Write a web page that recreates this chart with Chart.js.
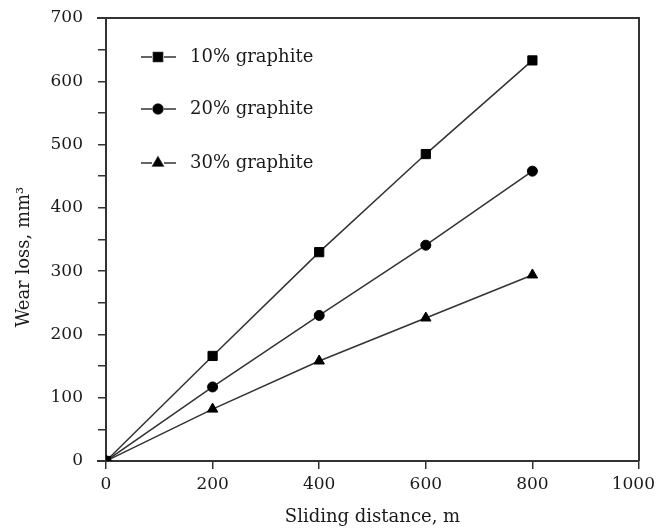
<!DOCTYPE html>
<html>
<head>
<meta charset="utf-8">
<script src="https://cdn.jsdelivr.net/npm/chart.js@4/dist/chart.umd.min.js"></script>
<style>
html,body{margin:0;padding:0;background:#fff;}
#wrap{width:657px;height:531px;position:relative;}
</style>
</head>
<body>
<div id="wrap"><canvas id="c" width="657" height="531"></canvas></div>
<script>
const distances = [0, 200, 400, 600, 800];
const graphite10 = [0, 166, 330, 485, 633];
const graphite20 = [0, 117, 230, 341, 458];
const graphite30 = [0, 82, 158, 226, 294];
const seriesLabels = ['10% graphite', '20% graphite', '30% graphite'];
const xTicks = [0, 200, 400, 600, 800, 1000];
const yTicks = [0, 100, 200, 300, 400, 500, 600, 700];
const xTitle = 'Sliding distance, m';
const yTitle = 'Wear loss, mm³';

const FONT = "'DejaVu Serif', 'Liberation Serif', serif";
const INK = '#1a1a1a';

function mk(vals){ return distances.map((d,i)=>({x:d,y:vals[i]})); }

const legendPlugin = {
  id: 'insideLegend',
  afterDraw(chart){
    const ctx = chart.ctx;
    const rows = [57, 109, 163];
    ctx.save();
    chart.data.datasets.forEach((ds, i) => {
      const y = rows[i];
      ctx.strokeStyle = '#333';
      ctx.lineWidth = 1.5;
      ctx.beginPath();
      ctx.moveTo(141, y); ctx.lineTo(152, y);
      ctx.moveTo(164, y); ctx.lineTo(176, y);
      ctx.stroke();
      Chart.helpers.drawPoint(ctx, {pointStyle: ds.pointStyle, radius: ds.pointRadius, rotation: 0, borderWidth: 1}, 158, y);
      ctx.fillStyle = '#000';
      ctx.fill();
      ctx.fillStyle = INK;
      ctx.font = '18px ' + FONT;
      ctx.textBaseline = 'middle';
      ctx.textAlign = 'left';
      ctx.fillText(ds.label, 190, y);
    });
    // x tick labels (placed by the x scale, last one kept inside the canvas)
    const xs = chart.scales.x;
    ctx.font = '17px ' + FONT;
    ctx.textBaseline = 'middle';
    ctx.textAlign = 'center';
    xTicks.forEach(v => {
      const txt = String(v);
      const w = ctx.measureText(txt).width;
      let px = xs.getPixelForValue(v);
      if (px + w / 2 > 655) px = 655 - w / 2;
      ctx.fillText(txt, px, 485);
    });
    // y-axis title
    ctx.translate(24, 257);
    ctx.rotate(-Math.PI / 2);
    ctx.font = '18px ' + FONT;
    ctx.textAlign = 'center';
    ctx.textBaseline = 'middle';
    ctx.fillStyle = INK;
    ctx.fillText(yTitle, 0, 0);
    ctx.restore();
  }
};

const frame = {
  id: 'frame',
  afterDatasetsDraw(chart){
    const a = chart.chartArea, ctx = chart.ctx;
    ctx.save();
    ctx.strokeStyle = '#333';
    ctx.lineWidth = 2;
    ctx.beginPath();
    ctx.moveTo(97, a.top); ctx.lineTo(a.right, a.top); ctx.lineTo(a.right, a.bottom);
    ctx.moveTo(97, a.bottom); ctx.lineTo(a.left, a.bottom);
    ctx.stroke();
    ctx.restore();
  }
};

const mkDs = (label, vals, style, r) => ({
  label, data: mk(vals), borderColor: '#333', borderWidth: 1.5, showLine: true,
  pointStyle: style, pointRadius: r, pointHoverRadius: r,
  pointBackgroundColor: '#000', pointBorderColor: '#000', pointBorderWidth: 1,
  fill: false, tension: 0
});

new Chart(document.getElementById('c'), {
  type: 'scatter',
  data: {
    datasets: [
      mkDs(seriesLabels[0], graphite10, 'rect', 6.5),
      mkDs(seriesLabels[1], graphite20, 'circle', 5),
      mkDs(seriesLabels[2], graphite30, 'triangle', 6)
    ]
  },
  options: {
    responsive: false,
    animation: false,
    devicePixelRatio: 1,
    layout: {padding: {top: 18, right: 18, left: 0, bottom: 0}},
    plugins: {legend: {display: false}, tooltip: {enabled: false}},
    scales: {
      x: {
        type: 'linear', min: 0, max: 1000,
        afterBuildTicks(s){ s.ticks = xTicks.map(v => ({value: v})); },
        afterFit(s){ s.height = 70; s.paddingLeft = 0; s.paddingRight = 0; },
        ticks: {color: INK, font: {family: FONT, size: 17}, padding: 4, maxRotation: 0,
                callback: () => ''},
        grid: {drawOnChartArea: false, drawTicks: true, tickLength: 8, color: '#333', lineWidth: 1.5},
        border: {display: true, color: '#333', width: 2},
        title: {display: true, text: xTitle, color: INK, font: {family: FONT, size: 18}, padding: {top: 0, bottom: 3}}
      },
      y: {
        type: 'linear', min: 0, max: 700,
        afterBuildTicks(s){
          const t = [];
          for (let v = 0; v <= 700; v += 50) t.push({value: v});
          s.ticks = t;
        },
        afterFit(s){ s.width = 106; s.paddingTop = 0; s.paddingBottom = 0; },
        ticks: {
          color: INK, font: {family: FONT, size: 17}, padding: 15,
          callback: (v) => yTicks.includes(v) ? String(v) : ''
        },
        grid: {drawOnChartArea: false, drawTicks: true, tickLength: 8, color: '#333', lineWidth: 1.5},
        border: {display: true, color: '#333', width: 2},
        title: {display: false}
      }
    }
  },
  plugins: [frame, legendPlugin]
});
</script>
</body>
</html>
